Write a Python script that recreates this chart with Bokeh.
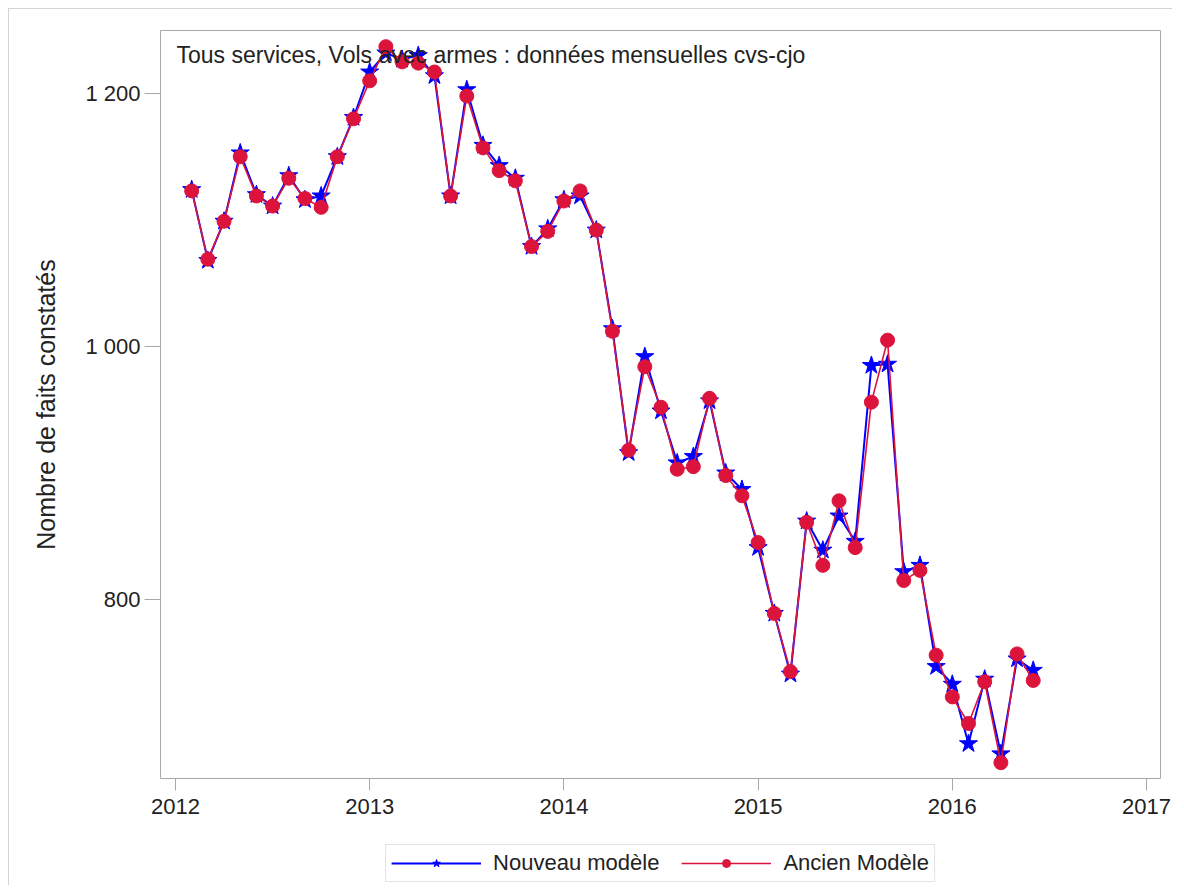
import pandas as pd
from bokeh.plotting import figure
from bokeh.layouts import column
from bokeh.models import Legend, LegendItem, FixedTicker, Label, Range1d
from bokeh.embed import file_html
from bokeh.resources import INLINE

# ---- data ----
months = pd.period_range("2012-02", "2016-06", freq="M")
nouveau = [1124, 1068, 1099, 1153, 1120, 1111, 1135, 1116, 1119, 1150,
           1181, 1217, 1232, 1227, 1230, 1214, 1119, 1203, 1159, 1143,
           1133, 1079, 1093, 1116, 1119, 1092, 1014, 916, 992, 949,
           908, 913, 957, 900, 887, 841, 789, 741, 862, 839,
           866, 846, 985, 986, 822, 827, 747, 733, 686, 737,
           678, 753, 744]
ancien = [1123, 1069, 1099, 1150, 1119, 1111, 1133, 1117, 1110, 1150,
          1180, 1210, 1237, 1225, 1224, 1217, 1119, 1198, 1157, 1139,
          1131, 1079, 1091, 1115, 1123, 1092, 1012, 918, 984, 952,
          903, 905, 959, 898, 882, 845, 789, 743, 861, 827,
          878, 841, 956, 1005, 815, 823, 756, 723, 702, 735,
          671, 757, 736]
x_ticks = [2012, 2013, 2014, 2015, 2016, 2017]
y_ticks = [800, 1000, 1200]
y_tick_labels = {800: "800", 1000: "1 000", 1200: "1 200"}
title_text = "Tous services, Vols avec armes : données mensuelles cvs-cjo"
y_label = "Nombre de faits constatés"
series_names = ["Nouveau modèle", "Ancien Modèle"]

x = [m.year + (m.month - 1) / 12 for m in months]

FONT = "Liberation Sans"
BLUE = "#0000FF"
RED = "#DC143C"
GRAY = "#a8a8a8"
STAR = dict(marker="star", size=19, fill_color=BLUE, line_color=BLUE)
DOT = dict(marker="circle", size=14, fill_color=RED, line_color=RED)

# ---------------- main chart ----------------
p = figure(width=1163, height=821, output_backend="svg", toolbar_location=None,
           x_range=Range1d(2011.9228, 2017.072), y_range=Range1d(658.5, 1249.8),
           min_border_left=151, min_border_top=21, min_border_right=12,
           min_border_bottom=52)
p.xgrid.visible = False
p.ygrid.visible = False
p.outline_line_color = GRAY
p.outline_line_width = 1

p.line(x, nouveau, line_color=BLUE, line_width=2)
p.scatter(x, nouveau, **STAR)
p.line(x, ancien, line_color=RED, line_width=1.6)
p.scatter(x, ancien, **DOT)

for ax in (p.xaxis[0], p.yaxis[0]):
    ax.axis_line_color = None
    ax.major_tick_line_color = GRAY
    ax.minor_tick_line_color = None
    ax.major_tick_in = 0
    ax.major_label_text_font = FONT
    ax.major_label_text_font_size = "22px"
    ax.major_label_text_color = "#222222"

p.xaxis.ticker = FixedTicker(ticks=x_ticks)
p.xaxis.major_tick_out = 12
p.xaxis.major_label_standoff = 8

p.yaxis.ticker = FixedTicker(ticks=y_ticks)
p.yaxis.major_label_overrides = y_tick_labels
p.yaxis.major_tick_out = 16
p.yaxis.major_label_standoff = 4
p.yaxis.axis_label = y_label
p.yaxis.axis_label_text_font = FONT
p.yaxis.axis_label_text_font_size = "25px"
p.yaxis.axis_label_text_font_style = "normal"
p.yaxis.axis_label_text_color = "#222222"
p.yaxis.axis_label_standoff = 22

p.add_layout(Label(x=2012.005, y=1230.5, text=title_text, text_font=FONT,
                   text_font_size="23px", text_color="#222222",
                   text_baseline="alphabetic", text_align="left"))

# ---------------- legend strip below the chart ----------------
# the series are drawn again here only to supply legend glyphs; the ranges
# keep them out of view so only the legend shows
leg = figure(width=1163, height=55, output_backend="svg", toolbar_location=None,
             x_axis_type=None, y_axis_type=None,
             x_range=Range1d(0, 1), y_range=Range1d(0, 1),
             min_border_left=151, min_border_right=12,
             min_border_top=10, min_border_bottom=0)
leg.outline_line_color = None
leg.xgrid.visible = False
leg.ygrid.visible = False
lb = leg.line(x, nouveau, line_color=BLUE, line_width=2)
ls = leg.scatter(x, nouveau, **STAR)
lr = leg.line(x, ancien, line_color=RED, line_width=1.6)
lc = leg.scatter(x, ancien, **DOT)

legend = Legend(items=[LegendItem(label=series_names[0], renderers=[lb, ls]),
                       LegendItem(label=series_names[1], renderers=[lr, lc])],
                location="center", orientation="horizontal",
                border_line_color="#c8c8c8", background_fill_color="white",
                background_fill_alpha=1.0,
                label_text_font=FONT, label_text_font_size="22px",
                label_text_color="#222222",
                glyph_width=90, glyph_height=20, label_height=20,
                label_standoff=12, spacing=22, padding=5, margin=0)
leg.add_layout(legend)

layout = column(p, leg, spacing=0)
layout.styles = {"margin-left": "8px", "margin-top": "8px",
                 "border-top": "1px solid #d4d4d4", "border-left": "1px solid #d4d4d4"}

open("out.html", "w").write(file_html(layout, INLINE))
